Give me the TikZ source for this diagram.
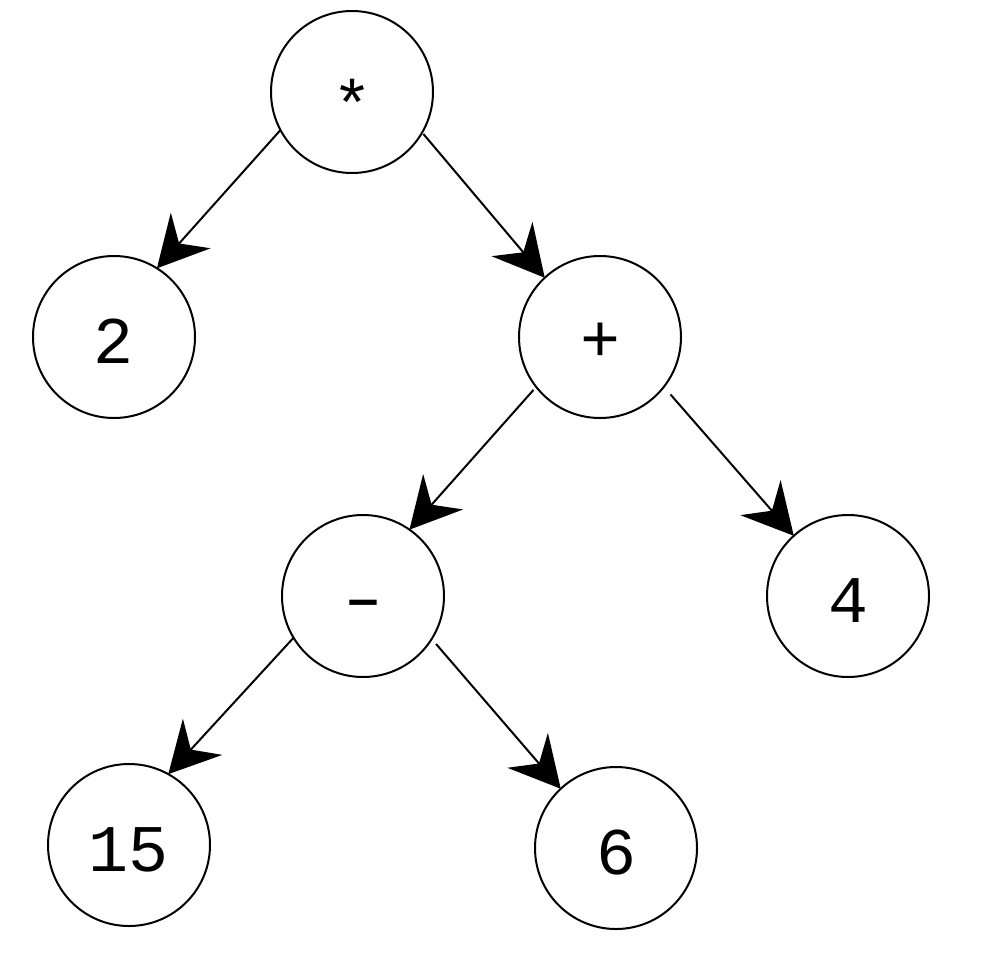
\documentclass[tikz,border=0pt]{standalone}
\usepackage{fontspec}
\setmonofont{Liberation Mono}
\usetikzlibrary{arrows.meta}
\tikzset{
  treenode/.style={circle, draw, line width=1.5pt, minimum size=121.5pt, inner sep=0pt, outer sep=0pt,
    text height=0pt, text depth=0pt,
    font=\ttfamily\fontsize{50}{60}\selectfont},
  treeedge/.style={line width=1.5pt, -{Stealth[length=38pt,width=40pt,inset=13pt]}}
}
\begin{document}
\begin{tikzpicture}[x=0.75pt,y=-0.75pt]
\useasboundingbox (0,0) rectangle (998,960);
\node[treenode] (star) at (352,92) {\raisebox{-26.5pt}{*}};
\node[treenode] (two) at (114,337) {\raisebox{-20pt}{2}};
\node[treenode] (plus) at (600,337) {\raisebox{-18.5pt}{+}};
\node[treenode] (minus) at (363,596) {\raisebox{-18pt}{\scalebox{1.5}[1]{-}}};
\node[treenode] (four) at (848,596) {\raisebox{-20pt}{4}};
\node[treenode] (fifteen) at (129,845) {\raisebox{-20pt}{15}};
\node[treenode] (six) at (616,848) {\raisebox{-20pt}{6}};
\draw[treeedge] (star.208) -- (two.58);
\draw[treeedge, shorten <=1.5pt] (star.330) -- (plus.133);
\draw[treeedge, shorten <=3pt] (plus.218) -- (minus.55);
\draw[treeedge, shorten <=7.5pt] (plus.322) -- (four.132);
\draw[treeedge] (minus.211) -- (fifteen.61);
\draw[treeedge, shorten <=5pt] (minus.328) -- (six.133);
\end{tikzpicture}
\end{document}
